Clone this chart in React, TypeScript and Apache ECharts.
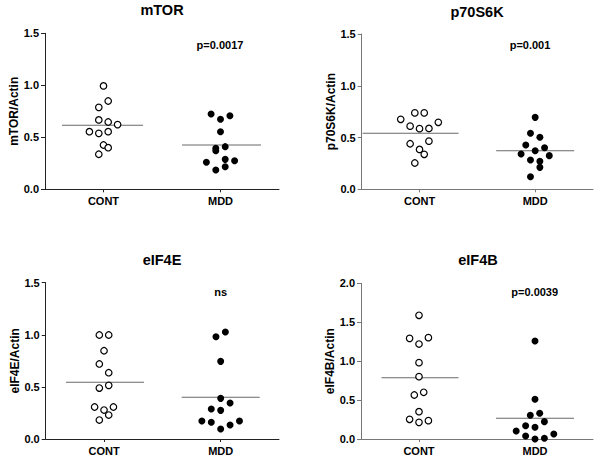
import React, { useEffect, useRef } from "react";
import * as echarts from "echarts";

const categories = ["CONT", "MDD"];
const yTicksA = [0, 0.5, 1.0, 1.5];
const yTicksB = [0, 0.5, 1.0, 1.5, 2.0];

const panelTitles = ["mTOR", "p70S6K", "eIF4E", "eIF4B"];
const yNames = ["mTOR/Actin", "p70S6K/Actin", "eIF4E/Actin", "eIF4B/Actin"];
const pTexts = ["p=0.0017", "p=0.001", "ns", "p=0.0039"];

// mTOR
const mtorCont = [0.994, 0.849, 0.788, 0.667, 0.647, 0.622, 0.554, 0.538, 0.554, 0.426, 0.4, 0.337];
const mtorMdd = [0.724, 0.673, 0.708, 0.554, 0.394, 0.371, 0.41, 0.275, 0.288, 0.26, 0.217, 0.186];
const mtorMean = [0.615, 0.426];
// p70S6K
const p70Cont = [0.676, 0.738, 0.738, 0.61, 0.586, 0.588, 0.647, 0.44, 0.465, 0.385, 0.338, 0.254];
const p70Mdd = [0.695, 0.541, 0.502, 0.428, 0.373, 0.402, 0.341, 0.325, 0.283, 0.27, 0.212, 0.122];
const p70Mean = [0.541, 0.373];
// eIF4E
const e4eCont = [0.998, 0.998, 0.847, 0.72, 0.636, 0.489, 0.515, 0.307, 0.278, 0.307, 0.23, 0.182];
const e4eMdd = [0.982, 1.027, 0.745, 0.39, 0.288, 0.275, 0.345, 0.173, 0.16, 0.096, 0.134, 0.173];
const e4eMean = [0.544, 0.4];
// eIF4B
const e4bCont = [1.589, 1.293, 1.302, 1.22, 0.981, 0.801, 0.565, 0.6, 0.351, 0.253, 0.214, 0.236];
const e4bMdd = [1.259, 0.51, 0.304, 0.33, 0.171, 0.15, 0.223, 0.103, 0.039, 0.0, 0.009, 0.064];
const e4bMean = [0.788, 0.266];

// beeswarm column slots (layout only)
const mtorContSlots = [0, 1, -1, -1, 1, 3, -3, -1, 1, 0, 1, -1];
const mtorMddSlots = [-2, 0, 2, 0, -1, -1, 1, 3, 1, -3, 1, -1];
const p70ContSlots = [-4, -1, 1, -2, 0, 2, 4, -2, 2, 0, 1, -1];
const p70MddSlots = [0, -1, 1, -2, 0, 2, -3, 3, -1, 1, 1, -1];
const e4eContSlots = [-1, 1, 0, -1, 1, -1, 1, -2, 0, 2, 1, -1];
const e4eMddSlots = [-1, 1, 0, 0, -2, 0, 2, -4, -2, 0, 2, 4];
const e4bContSlots = [0, -2, 2, 0, 0, 0, -1, 1, 0, -2, 0, 2];
const e4bMddSlots = [0, 0, -1, 1, -2, 0, 2, -4, -2, 0, 2, 4];

const FONT = "'Liberation Sans', Arial, sans-serif";
const SLOT = 4.7;

const panels = [
  { cont: mtorCont, mdd: mtorMdd, mean: mtorMean, cs: mtorContSlots, ms: mtorMddSlots, ticks: yTicksA,
    grid: { left: 45, top: 33.3, width: 234, height: 156 }, axisColor: "#222",
    meanLines: [{ w: 81, dx: -1 }, { w: 79, dx: 1 }] },
  { cont: p70Cont, mdd: p70Mdd, mean: p70Mean, cs: p70ContSlots, ms: p70MddSlots, ticks: yTicksA,
    grid: { left: 361.7, top: 34, width: 231.3, height: 155.3 }, axisColor: "#777",
    meanLines: [{ w: 96, dx: -9 }, { w: 78, dx: 0 }] },
  { cont: e4eCont, mdd: e4eMdd, mean: e4eMean, cs: e4eContSlots, ms: e4eMddSlots, ticks: yTicksA,
    grid: { left: 45.7, top: 282.7, width: 233.3, height: 156.3 }, axisColor: "#222",
    meanLines: [{ w: 78, dx: 1 }, { w: 78, dx: 0 }] },
  { cont: e4bCont, mdd: e4bMdd, mean: e4bMean, cs: e4bContSlots, ms: e4bMddSlots, ticks: yTicksB,
    grid: { left: 361, top: 283.3, width: 232, height: 155.7 }, axisColor: "#777",
    meanLines: [{ w: 77, dx: 1 }, { w: 78, dx: 0 }] },
];

const titlePos = [[162, 10], [477, 11.5], [162, 259.7], [478, 260]];
const pPos = [[220, 44.5], [530, 44.5], [220.7, 291.7], [534.7, 291.7]];

export default function App() {
  const ref = useRef<HTMLDivElement>(null);
  useEffect(() => {
    if (!ref.current) return;
    const chart = echarts.init(ref.current, null, { renderer: "svg" });
    const grids: any[] = [];
    const xAxes: any[] = [];
    const yAxes: any[] = [];
    const series: any[] = [];
    panels.forEach((p, i) => {
      grids.push({ ...p.grid, containLabel: false });
      xAxes.push({
        type: "category",
        gridIndex: i,
        data: categories,
        boundaryGap: true,
        axisLine: { show: true, lineStyle: { color: p.axisColor, width: 1 } },
        axisTick: { show: true, alignWithLabel: true, length: 3, lineStyle: { color: p.axisColor } },
        axisLabel: { fontFamily: FONT, fontWeight: "bold", fontSize: 11, color: "#000", margin: 6 },
        splitLine: { show: false },
      });
      const maxV = p.ticks[p.ticks.length - 1];
      yAxes.push({
        type: "value",
        gridIndex: i,
        min: 0,
        max: maxV,
        interval: 0.5,
        name: yNames[i],
        nameLocation: "middle",
        nameGap: 25,
        nameTextStyle: { fontFamily: FONT, fontWeight: "bold", fontSize: 12, color: "#000" },
        axisLine: { show: true, lineStyle: { color: p.axisColor, width: 1 } },
        axisTick: { show: true, length: 4, lineStyle: { color: p.axisColor } },
        axisLabel: {
          fontFamily: FONT, fontWeight: "bold", fontSize: 11, color: "#000", margin: 6,
          formatter: (v: number) => v.toFixed(1),
        },
        splitLine: { show: false },
      });
      series.push({
        type: "scatter",
        xAxisIndex: i,
        yAxisIndex: i,
        symbol: "rect",
        clip: false,
        z: 1,
        data: categories.map((c, k) => ({
          value: [c, p.mean[k]],
          symbolSize: [p.meanLines[k].w, 1],
          symbolOffset: [p.meanLines[k].dx, 0],
        })),
        itemStyle: { color: "#444" },
        silent: true,
      });
      series.push({
        type: "scatter",
        xAxisIndex: i,
        yAxisIndex: i,
        symbol: "circle",
        symbolSize: 6.5,
        clip: false,
        z: 3,
        data: p.cont.map((v, k) => ({ value: ["CONT", v], symbolOffset: [p.cs[k] * SLOT, 0] })),
        itemStyle: { color: "#fff", borderColor: "#000", borderWidth: 1.2, opacity: 1 },
      });
      series.push({
        type: "scatter",
        xAxisIndex: i,
        yAxisIndex: i,
        symbol: "circle",
        symbolSize: 7,
        clip: false,
        z: 3,
        data: p.mdd.map((v, k) => ({ value: ["MDD", v], symbolOffset: [p.ms[k] * SLOT, 0] })),
        itemStyle: { color: "#000", opacity: 1 },
      });
    });
    const graphic: any[] = [];
    panelTitles.forEach((t, i) => {
      graphic.push({
        type: "text",
        x: titlePos[i][0],
        y: titlePos[i][1],
        style: {
          text: t, fontFamily: FONT, fontWeight: "bold", fontSize: 14.5, fill: "#000",
          textAlign: "center", textVerticalAlign: "middle",
        },
      });
      graphic.push({
        type: "text",
        x: pPos[i][0],
        y: pPos[i][1],
        style: {
          text: pTexts[i], fontFamily: FONT, fontWeight: "bold", fontSize: 11, fill: "#000",
          textAlign: "center", textVerticalAlign: "middle",
        },
      });
    });
    chart.setOption({
      animation: false,
      backgroundColor: "#fff",
      grid: grids,
      xAxis: xAxes,
      yAxis: yAxes,
      series,
      graphic,
    });
    return () => chart.dispose();
  }, []);
  return (
    <div
      ref={ref}
      style={{ position: "fixed", left: 0, top: 0, width: 602, height: 458, background: "#fff" }}
    />
  );
}
